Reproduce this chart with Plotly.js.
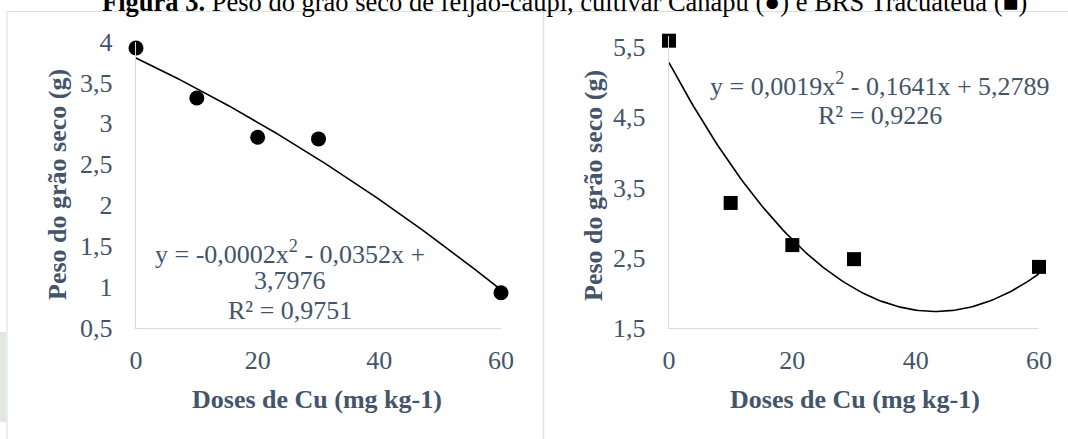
<!DOCTYPE html>
<html>
<head>
<meta charset="utf-8">
<script src="https://cdn.plot.ly/plotly-3.0.1.min.js"></script>
<style>
  html, body { margin: 0; padding: 0; background: #ffffff; }
  #chart { width: 1068px; height: 439px; }
</style>
</head>
<body>
<div id="chart"></div>
<script>
// ---- data ----
const doses = [0, 10, 20, 30, 60];
const canapu = [3.92, 3.31, 2.83, 2.81, 0.93];        // left panel (circles)
const tracuateua = [5.59, 3.28, 2.68, 2.48, 2.37];    // right panel (squares)

// trendline coefficients shown on the chart: [c, b, a] for y = a x^2 + b x + c
const coefCanapu = [3.7976, -0.0352, -0.0002];
const coefTracuateua = [5.2789, -0.1641, 0.0019];

const xTickVals = [0, 20, 40, 60];
const xTickText = ['0', '20', '40', '60'];
const yLeftTickVals = [0.5, 1, 1.5, 2, 2.5, 3, 3.5, 4];
const yLeftTickText = ['0,5', '1', '1,5', '2', '2,5', '3', '3,5', '4'];
const yRightTickVals = [1.5, 2.5, 3.5, 4.5, 5.5];
const yRightTickText = ['1,5', '2,5', '3,5', '4,5', '5,5'];

const figTitle = '<b>Figura 3.</b> Peso do grão seco de feijão-caupi, cultivar Canapu (●) e BRS Tracuateua (■)';
const xTitle = 'Doses de Cu (mg kg-1)';
const yTitle = 'Peso do grão seco (g)';
const eqLeft = ['y = -0,0002x<sup>2</sup> - 0,0352x +', '3,7976', 'R² = 0,9751'];
const eqRight = ['y = 0,0019x<sup>2</sup> - 0,1641x + 5,2789', 'R² = 0,9226'];

// ---- helpers ----
const W = 1068, H = 439;
const px = v => v / W;
const py = v => 1 - v / H;

function trend(coef, xmin, xmax, n) {
  const xs = [], ys = [];
  for (let i = 0; i <= n; i++) {
    const x = xmin + (xmax - xmin) * i / n;
    xs.push(x);
    ys.push(coef[0] + coef[1] * x + coef[2] * x * x);
  }
  return {xs, ys};
}
const tL = trend(coefCanapu, 0, 60, 120);
const tR = trend(coefTracuateua, 0, 60, 120);

const FONT = 'Liberation Serif, Times New Roman, serif';
const TXT = '#44546A';
const AXL = '#D5DBE3';
const FS = 26;

const traces = [
  {x: tL.xs, y: tL.ys, xaxis: 'x', yaxis: 'y', mode: 'lines', line: {color: '#000', width: 1.6}, hoverinfo: 'skip', cliponaxis: false},
  {x: doses, y: canapu, xaxis: 'x', yaxis: 'y', mode: 'markers', marker: {symbol: 'circle', size: 15, color: '#000'}, cliponaxis: false},
  {x: tR.xs, y: tR.ys, xaxis: 'x2', yaxis: 'y2', mode: 'lines', line: {color: '#000', width: 1.6}, hoverinfo: 'skip', cliponaxis: false},
  {x: doses, y: tracuateua, xaxis: 'x2', yaxis: 'y2', mode: 'markers', marker: {symbol: 'square', size: 14, color: '#000'}, cliponaxis: false}
];

function xax(domain, anchor) {
  return {
    domain: domain, anchor: anchor, range: [0, 60],
    tickvals: xTickVals, ticktext: xTickText,
    showline: true, linecolor: AXL, linewidth: 1.2,
    showgrid: false, zeroline: false, ticks: '',
    ticklabelstandoff: 9,
    tickfont: {family: FONT, size: FS, color: TXT}
  };
}
function yax(domain, anchor, range, tv, tt) {
  return {
    domain: domain, anchor: anchor, range: range,
    tickvals: tv, ticktext: tt,
    showline: true, linecolor: AXL, linewidth: 1.2,
    showgrid: false, zeroline: false, ticks: '',
    ticklabelstandoff: 17,
    tickfont: {family: FONT, size: FS, color: TXT}
  };
}

const ann = [];
// figure title (cut at the top in the reference)
ann.push({text: figTitle, xref: 'paper', yref: 'paper', x: px(564), y: py(19), xanchor: 'center', yanchor: 'bottom',
  showarrow: false, font: {family: FONT, size: 26.5, color: '#000'}});
// axis titles
ann.push({text: '<b>' + xTitle + '</b>', xref: 'paper', yref: 'paper', x: px(190), y: py(399), xanchor: 'left', yanchor: 'middle',
  showarrow: false, font: {family: FONT, size: FS, color: TXT}});
ann.push({text: '<b>' + xTitle + '</b>', xref: 'paper', yref: 'paper', x: px(982), y: py(399), xanchor: 'right', yanchor: 'middle',
  showarrow: false, font: {family: FONT, size: FS, color: TXT}});
ann.push({text: '<b>' + yTitle + '</b>', xref: 'paper', yref: 'paper', x: px(57), y: py(185), xanchor: 'center', yanchor: 'middle',
  textangle: -90, showarrow: false, font: {family: FONT, size: FS, color: TXT}});
ann.push({text: '<b>' + yTitle + '</b>', xref: 'paper', yref: 'paper', x: px(593), y: py(186), xanchor: 'center', yanchor: 'middle',
  textangle: -90, showarrow: false, font: {family: FONT, size: FS, color: TXT}});
// equations
const eqLeftY = [252, 280, 310];
eqLeft.forEach((t, i) => ann.push({text: t, xref: 'paper', yref: 'paper', x: px(290), y: py(eqLeftY[i]), xanchor: 'center', yanchor: 'middle',
  showarrow: false, font: {family: FONT, size: FS, color: TXT}}));
const eqRightY = [84, 116];
eqRight.forEach((t, i) => ann.push({text: t, xref: 'paper', yref: 'paper', x: px(880), y: py(eqRightY[i]), xanchor: 'center', yanchor: 'middle',
  showarrow: false, font: {family: FONT, size: FS, color: TXT}}));

const BORDER = '#DCE1E8';
const shapes = [
  {type: 'line', xref: 'paper', yref: 'paper', x0: px(7), x1: 1, y0: py(11.5), y1: py(11.5), line: {color: BORDER, width: 1.2}},
  {type: 'line', xref: 'paper', yref: 'paper', x0: px(7), x1: px(7), y0: py(11.5), y1: 0, line: {color: BORDER, width: 1.2}},
  {type: 'line', xref: 'paper', yref: 'paper', x0: px(543.5), x1: px(543.5), y0: py(11.5), y1: 0, line: {color: BORDER, width: 1.5}},
  {type: 'rect', xref: 'paper', yref: 'paper', x0: 0, x1: px(6), y0: py(422), y1: py(332), line: {width: 0}, fillcolor: '#E3E9E1'}
];

// right panel: 5.5 sits at y=47px; range top extended so the marker above 5.5 is kept
const rightTop = 5.65;
const rightScale = (328 - 47) / (5.5 - 1.5);
const rightTopPx = 47 - (rightTop - 5.5) * rightScale;

const layout = {
  width: W, height: H,
  margin: {l: 0, r: 0, t: 0, b: 0},
  paper_bgcolor: '#fff', plot_bgcolor: 'rgba(0,0,0,0)',
  showlegend: false,
  xaxis: xax([px(136), px(501)], 'y'),
  yaxis: yax([py(328), py(41.5)], 'x', [0.5, 4], yLeftTickVals, yLeftTickText),
  xaxis2: xax([px(669), px(1039)], 'y2'),
  yaxis2: yax([py(328), py(rightTopPx)], 'x2', [1.5, rightTop], yRightTickVals, yRightTickText),
  annotations: ann,
  shapes: shapes
};

Plotly.newPlot('chart', traces, layout, {displayModeBar: false, staticPlot: true});
</script>
</body>
</html>
